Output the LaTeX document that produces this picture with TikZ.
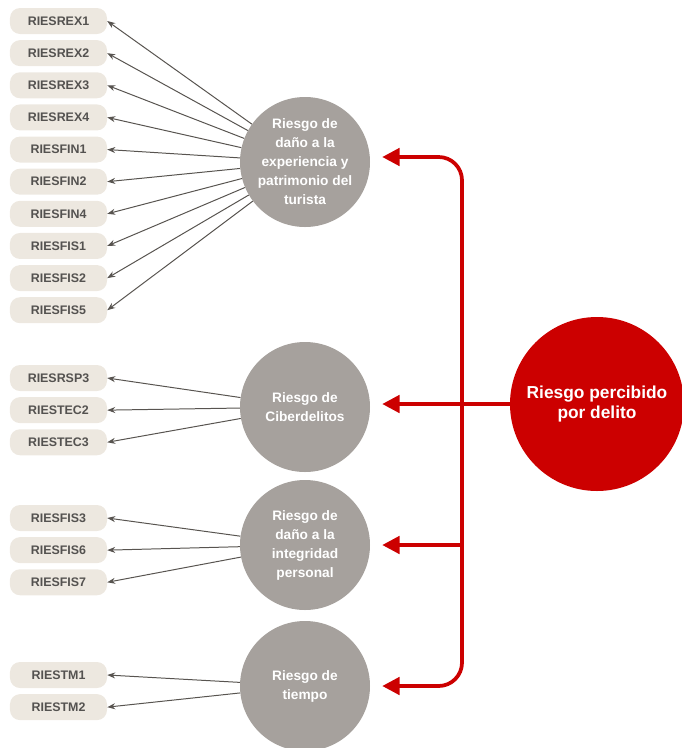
\documentclass[tikz,border=0pt]{standalone}
\usepackage{fontspec}
\setmainfont{Liberation Sans}
\usetikzlibrary{arrows.meta, positioning}
\definecolor{itembg}{RGB}{237,232,224}
\definecolor{itemtext}{RGB}{84,82,80}
\definecolor{factorgray}{RGB}{166,161,157}
\definecolor{crimered}{RGB}{204,0,0}
\definecolor{linkgray}{RGB}{88,84,80}

\begin{document}
\begin{tikzpicture}[
    x=0.03cm, y=-0.03cm,
    node distance=0.17cm,
    item/.style={fill=itembg, rounded corners=0.3cm, minimum width=2.91cm, minimum height=0.78cm, inner sep=0pt, font=\fontsize{10.6}{12}\selectfont\bfseries, text=itemtext},
    factor/.style={circle, fill=factorgray, minimum size=3.9cm, inner sep=0pt, align=center, font=\fontsize{11.7}{16.2}\selectfont\bfseries, text=white},
    hub/.style={circle, fill=crimered, minimum size=5.22cm, inner sep=0pt, align=center, font=\fontsize{14.8}{17.5}\selectfont\bfseries, text=white},
    load/.style={-{Stealth[length=0.24cm, width=0.18cm]}, line width=0.85pt, linkgray},
    redarr/.style={-{Triangle[length=0.52cm, width=0.52cm]}, line width=3.2pt, crimered, shorten >=0.36cm},
]
\useasboundingbox (0,0) rectangle (682,748);

% ── Items: experiencia y patrimonio ──
\node[item] (rex1) at (58.5,21) {RIESREX1};
\node[item, below=of rex1] (rex2) {RIESREX2};
\node[item, below=of rex2] (rex3) {RIESREX3};
\node[item, below=of rex3] (rex4) {RIESREX4};
\node[item, below=of rex4] (fin1) {RIESFIN1};
\node[item, below=of fin1] (fin2) {RIESFIN2};
\node[item, below=of fin2] (fin4) {RIESFIN4};
\node[item, below=of fin4] (fis1) {RIESFIS1};
\node[item, below=of fis1] (fis2) {RIESFIS2};
\node[item, below=of fis2] (fis5) {RIESFIS5};

% ── Items: ciberdelitos ──
\node[item] (rsp3) at (58.5,378) {RIESRSP3};
\node[item, below=of rsp3] (tec2) {RIESTEC2};
\node[item, below=of tec2] (tec3) {RIESTEC3};

% ── Items: integridad personal ──
\node[item] (fis3) at (58.5,518) {RIESFIS3};
\node[item, below=of fis3] (fis6) {RIESFIS6};
\node[item, below=of fis6] (fis7) {RIESFIS7};

% ── Items: tiempo ──
\node[item] (tm1) at (58.5,675) {RIESTM1};
\node[item, below=of tm1] (tm2) {RIESTM2};

% ── Factors ──
\node[factor] (patr) at (305,162) {Riesgo de\\daño a la\\experiencia y\\patrimonio del\\turista};
\node[factor] (ciber) at (305,407) {Riesgo de\\Ciberdelitos};
\node[factor] (integ) at (305,545) {Riesgo de\\daño a la\\integridad\\personal};
\node[factor] (tiempo) at (305,686) {Riesgo de\\tiempo};

% ── Second order ──
\node[hub] (delito) at (597,404) {Riesgo percibido\\por delito};
\coordinate (bus) at (462,404);

% ── Loadings ──
\draw[load] (patr) -- (rex1.east);
\draw[load] (patr) -- (rex2.east);
\draw[load] (patr) -- (rex3.east);
\draw[load] (patr) -- (rex4.east);
\draw[load] (patr) -- (fin1.east);
\draw[load] (patr) -- (fin2.east);
\draw[load] (patr) -- (fin4.east);
\draw[load] (patr) -- (fis1.east);
\draw[load] (patr) -- (fis2.east);
\draw[load] (patr) -- (fis5.east);
\draw[load] (ciber) -- (rsp3.east);
\draw[load] (ciber) -- (tec2.east);
\draw[load] (ciber) -- (tec3.east);
\draw[load] (integ) -- (fis3.east);
\draw[load] (integ) -- (fis6.east);
\draw[load] (integ) -- (fis7.east);
\draw[load] (tiempo) -- (tm1.east);
\draw[load] (tiempo) -- (tm2.east);

% ── Red arrows ──
\draw[redarr, rounded corners=0.7cm] (bus) |- ([yshift=0.15cm]patr.east);
\draw[redarr, rounded corners=0.7cm] (bus) |- (tiempo.east);
\draw[redarr] (delito.west) -- (ciber.east |- delito.west);
\draw[redarr] (bus |- integ.east) -- (integ.east);

\end{tikzpicture}
\end{document}
